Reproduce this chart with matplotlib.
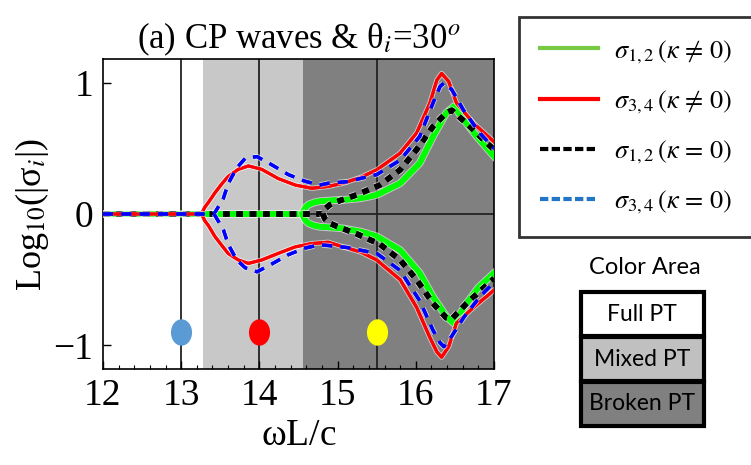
import numpy as np
import matplotlib
matplotlib.use('Agg')
import matplotlib.pyplot as plt
import matplotlib.patheffects as pe
from matplotlib.lines import Line2D
from matplotlib.patches import Rectangle
from matplotlib.path import Path
from matplotlib.transforms import Affine2D

plt.rcParams['font.family'] = ['Liberation Serif', 'DejaVu Serif']
plt.rcParams['mathtext.fontset'] = 'stix'

# region borders (omega L / c)
mixed_start = 13.28
broken_start = 14.56
marker_x = [13.0, 14.0, 15.5]
marker_y = [-0.9, -0.9, -0.9]
marker_colors = ['#5b9bd5', '#ff0000', '#ffff00']

# sigma_3,4 (kappa != 0)  -- red
red_x_up = [12.0, 13.26, 13.30, 13.35, 13.43, 13.52, 13.60, 13.73, 13.86, 14.03, 14.24, 14.46, 14.67,
            14.88, 15.07, 15.30, 15.50, 15.80, 16.01, 16.18, 16.27, 16.33, 16.42, 16.52, 16.74, 17.0]
red_y_up = [0.0, 0.0, 0.05, 0.09, 0.16, 0.23, 0.285, 0.34, 0.366, 0.34, 0.27, 0.22, 0.196,
            0.21, 0.234, 0.28, 0.336, 0.463, 0.616, 0.845, 1.02, 1.07, 1.01, 0.845, 0.69, 0.55]
red_x_lo = [13.26, 13.30, 13.35, 13.43, 13.52, 13.60, 13.73, 13.86, 14.03, 14.24, 14.46, 14.67,
            14.88, 15.07, 15.30, 15.50, 15.80, 16.01, 16.18, 16.27, 16.33, 16.42, 16.52, 16.74, 17.0]
red_y_lo = [0.0, -0.05, -0.09, -0.17, -0.24, -0.30, -0.35, -0.376, -0.35, -0.30, -0.25, -0.225,
            -0.215, -0.25, -0.29, -0.35, -0.50, -0.71, -0.94, -1.05, -1.09, -1.01, -0.83, -0.71, -0.58]

# sigma_3,4 (kappa = 0)  -- blue dashed
blue_x_up = [12.0, 13.42, 13.47, 13.54, 13.60, 13.71, 13.82, 13.97, 14.16, 14.37, 14.58, 14.77,
             14.88, 15.12, 15.50, 15.80, 16.05, 16.22, 16.31, 16.36, 16.46, 16.61, 16.82, 17.0]
blue_y_up = [0.0, 0.0, 0.05, 0.12, 0.23, 0.35, 0.425, 0.437, 0.374, 0.30, 0.25, 0.22,
             0.234, 0.246, 0.30, 0.41, 0.59, 0.845, 0.97, 0.998, 0.947, 0.79, 0.616, 0.50]
blue_x_lo = [13.42, 13.47, 13.54, 13.60, 13.71, 13.82, 13.97, 14.16, 14.37, 14.58, 14.77,
             14.88, 15.12, 15.50, 15.80, 16.05, 16.22, 16.31, 16.36, 16.46, 16.61, 16.82, 17.0]
blue_y_lo = [0.0, -0.05, -0.12, -0.23, -0.35, -0.41, -0.44, -0.38, -0.31, -0.26, -0.235,
             -0.24, -0.255, -0.30, -0.43, -0.66, -0.885, -0.98, -1.01, -0.93, -0.79, -0.63, -0.52]

# sigma_1,2 (kappa != 0)  -- green
green_x_up = [12.0, 14.55, 14.565, 14.59, 14.63, 14.70, 14.77, 14.97, 15.07, 15.30, 15.50, 15.80,
              16.05, 16.22, 16.39, 16.49, 16.61, 16.78, 17.0]
green_y_up = [0.0, 0.0, 0.025, 0.05, 0.072, 0.088, 0.097, 0.105, 0.107, 0.12, 0.145, 0.234,
              0.387, 0.59, 0.77, 0.82, 0.72, 0.59, 0.44]
green_x_lo = [14.55, 14.565, 14.59, 14.63, 14.70, 14.77, 14.97, 15.07, 15.30, 15.50, 15.80,
              16.05, 16.22, 16.39, 16.49, 16.65, 16.80, 17.0]
green_y_lo = [0.0, -0.025, -0.05, -0.072, -0.088, -0.097, -0.105, -0.11, -0.135, -0.17, -0.275,
              -0.45, -0.63, -0.78, -0.834, -0.68, -0.56, -0.45]

# sigma_1,2 (kappa = 0)  -- black dashed
black_x_up = [12.0, 14.81, 14.84, 14.90, 14.99, 15.24, 15.54, 15.80, 16.01, 16.22, 16.39,
              16.46, 16.65, 16.91, 17.0]
black_y_up = [0.0, 0.0, 0.04, 0.07, 0.094, 0.145, 0.22, 0.336, 0.49, 0.666, 0.77,
              0.79, 0.69, 0.54, 0.49]
black_x_lo = [14.81, 14.84, 14.90, 14.99, 15.24, 15.54, 15.80, 16.01, 16.22, 16.39,
              16.46, 16.65, 16.91, 17.0]
black_y_lo = [0.0, -0.04, -0.07, -0.094, -0.15, -0.23, -0.35, -0.50, -0.68, -0.79,
              -0.80, -0.68, -0.54, -0.49]

fig = plt.figure(figsize=(7.51, 4.65), dpi=100)
ax = fig.add_axes([103/751, 1 - 369/465, 391/751, 310/465])

ax.axvspan(mixed_start, broken_start, color='#c8c8c8', lw=0, zorder=0)
ax.axvspan(broken_start, 17, color='#808080', lw=0, zorder=0)
for xv in marker_x:
    ax.axvline(xv, color='#222222', lw=1.3, zorder=1)
ax.axhline(0, color='#222222', lw=1.3, zorder=1)

halo = lambda w: [pe.withStroke(linewidth=w + 1.6, foreground='white', alpha=0.55), pe.Normal()]

ax.plot(green_x_up, green_y_up, color='#00ff00', lw=4, zorder=3, path_effects=halo(4))
ax.plot(green_x_lo, green_y_lo, color='#00ff00', lw=4, zorder=3, path_effects=halo(4))
ax.plot(black_x_up, black_y_up, color='black', lw=4, ls=(0, (1.2, 1.2)), zorder=4, path_effects=halo(4))
ax.plot(black_x_lo, black_y_lo, color='black', lw=4, ls=(0, (1.2, 1.2)), zorder=4, path_effects=halo(4))
ax.plot(red_x_up, red_y_up, color='#ff0000', lw=2.2, zorder=5, path_effects=halo(2.2))
ax.plot(red_x_lo, red_y_lo, color='#ff0000', lw=2.2, zorder=5, path_effects=halo(2.2))
ax.plot(blue_x_up, blue_y_up, color='#0000ff', lw=2.4, ls=(0, (3, 2.5)), zorder=6, path_effects=halo(2.4))
ax.plot(blue_x_lo, blue_y_lo, color='#0000ff', lw=2.4, ls=(0, (3, 2.5)), zorder=6, path_effects=halo(2.4))

ell = Path.unit_circle().transformed(Affine2D().scale(1, 1.25))
for xm, ym, c in zip(marker_x, marker_y, marker_colors):
    ax.plot(xm, ym, marker=ell, ms=19, color=c, mec='none', zorder=7)

ax.set_xlim(12, 17)
ax.set_ylim(-1.18, 1.18)
ax.set_xticks([12, 13, 14, 15, 16, 17])
ax.set_yticks([-1, 0, 1])
ax.set_yticklabels(['\u22121', '0', '1'])
ax.set_xticks(np.arange(12, 17.01, 0.2), minor=True)
ax.tick_params(direction='in', length=6, width=1, labelsize=27, pad=7)
ax.tick_params(which='minor', direction='in', length=3, width=0.8)
for s in ax.spines.values():
    s.set_linewidth(1.2)

ax.set_xlabel(r'$\mathregular{\omega L/c}$', fontsize=27, labelpad=4)
ax.set_ylabel(r'Log$_{10}$(|σ$_i$|)', fontsize=26, labelpad=2)
ax.set_title(r'(a) CP waves & θ$_i$=30$^o$', fontsize=25, pad=8)

handles = [Line2D([], [], color='#77c843', lw=3),
           Line2D([], [], color='#ff0000', lw=3),
           Line2D([], [], color='black', lw=3, ls=(0, (2, 0.8))),
           Line2D([], [], color='#2176c8', lw=3, ls=(0, (2, 0.8)))]
labels = [r'$\sigma_{1,2}\,(\kappa\,\neq\,0)$', r'$\sigma_{3,4}\,(\kappa\,\neq\,0)$',
          r'$\sigma_{1,2}\,(\kappa\,=\,0)$', r'$\sigma_{3,4}\,(\kappa\,=\,0)$']
leg = fig.legend(handles, labels, loc='upper left', bbox_to_anchor=(519/751, 1 - 17/465),
                 fontsize=19, frameon=True, fancybox=False, edgecolor='black',
                 handlelength=2.2, handletextpad=0.6, labelspacing=0.85, borderpad=0.8,
                 borderaxespad=0)
leg.get_frame().set_linewidth(2)

fig.text(645/751, 1 - 267/465, 'Color Area', family='Lato', fontsize=17,
         ha='center', va='center')
cells = [('Full PT', 'white'), ('Mixed PT', '#c0c0c0'), ('Broken PT', '#808080')]
top = 292
for name, col in cells:
    fig.patches.append(Rectangle((581/751, 1 - (top + 44)/465), 123/751, 44/465,
                                 transform=fig.transFigure, facecolor=col,
                                 edgecolor='black', lw=3))
    fig.text(642/751, 1 - (top + 22)/465, name, family='Lato', fontsize=16.5,
             ha='center', va='center')
    top += 45

fig.savefig('out.png', dpi=100)
